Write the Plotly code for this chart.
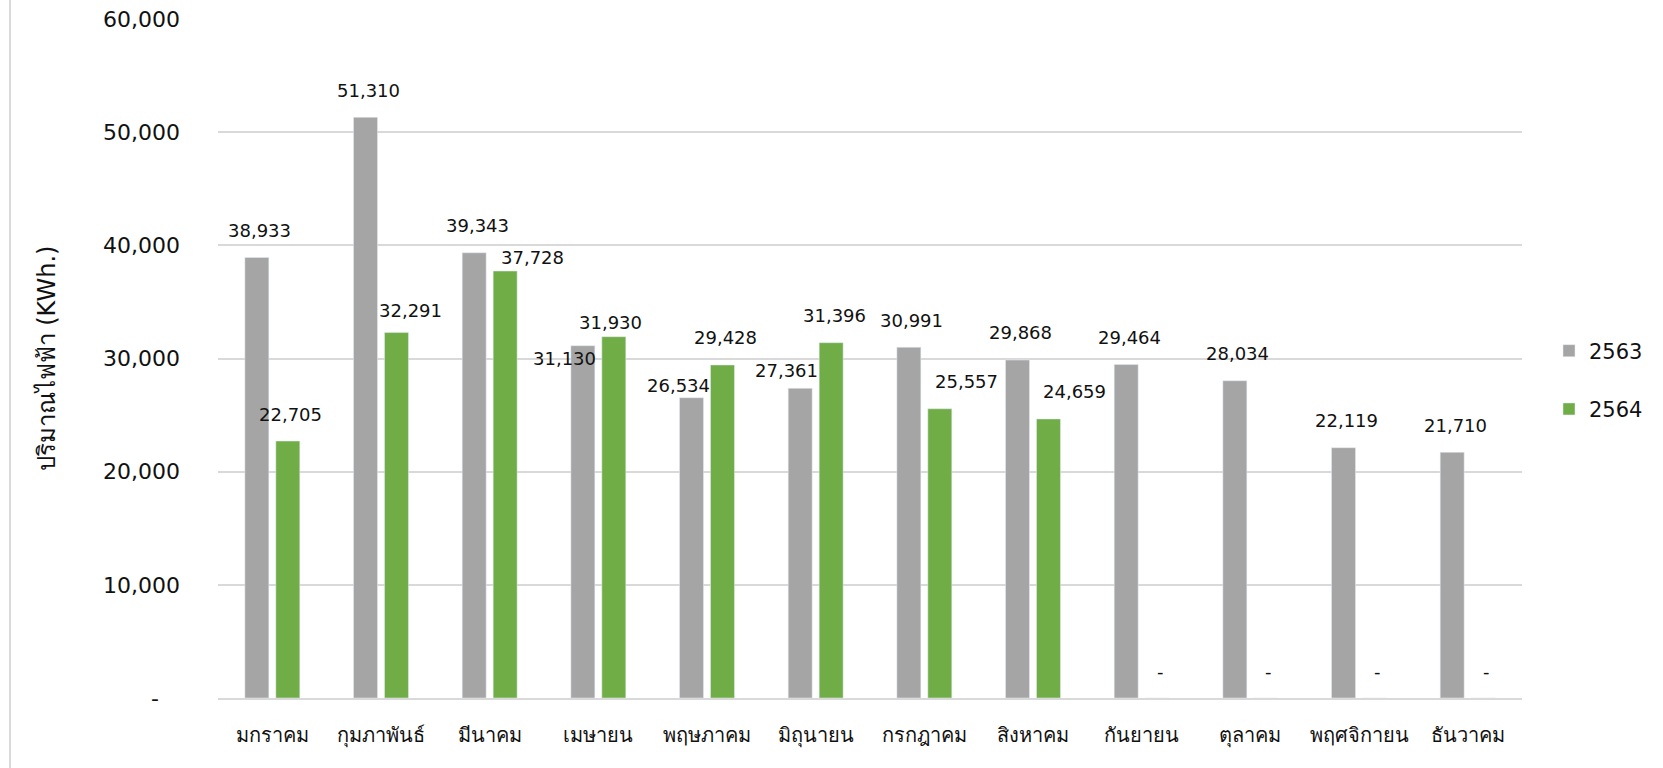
import plotly.graph_objects as go

months = ["มกราคม", "กุมภาพันธ์", "มีนาคม", "เมษายน", "พฤษภาคม", "มิถุนายน",
          "กรกฎาคม", "สิงหาคม", "กันยายน", "ตุลาคม", "พฤศจิกายน", "ธันวาคม"]
series_names = ["2563", "2564"]
values_2563 = [38933, 51310, 39343, 31130, 26534, 27361, 30991, 29868, 29464, 28034, 22119, 21710]
values_2564 = [22705, 32291, 37728, 31930, 29428, 31396, 25557, 24659, 0, 0, 0, 0]
y_tickvals = [0, 10000, 20000, 30000, 40000, 50000, 60000]
y_ticktext = ["-\u00a0\u00a0\u00a0", "10,000", "20,000", "30,000", "40,000", "50,000", "60,000"]
y_title = "ปริมาณไฟฟ้า (KWh.)"

GRAY = "#A5A5A5"
GREEN = "#70AD47"
GRID = "#D9D9D9"
FONT = "Tahoma, 'DejaVu Sans', sans-serif"

W, H = 1663, 768
ML, MR, MT, MB = 218, 141, 19, 70
PW = W - ML - MR
PH = H - MT - MB

fig = go.Figure()
fig.add_trace(go.Bar(x=months, y=values_2563, name=series_names[0], marker_color=GRAY,
                     legendgroup="a"))
fig.add_trace(go.Bar(x=months, y=values_2564, name=series_names[1], marker_color=GREEN,
                     legendgroup="b"))

# label nudges (dx px, px above bar top) for individual labels
nudge_2563 = {3: (-18, -13), 4: (-13, 12), 5: (-14, 18)}
nudge_2564 = {1: (14, 22), 2: (27, 14), 3: (-3, 14), 6: (27, 27), 7: (26, 27)}
DEFAULT = (3, 27)
SLOT = 15.5

def fmt(v):
    return "-" if v == 0 else f"{v:,}"

annotations = []
for i, m in enumerate(months):
    for vals, nudge, side in ((values_2563, nudge_2563, -1), (values_2564, nudge_2564, 1)):
        dx, up = nudge.get(i, DEFAULT)
        annotations.append(dict(
            x=m, y=vals[i], xref="x", yref="y", text=fmt(vals[i]), showarrow=False,
            xanchor="center", yanchor="middle", xshift=side * SLOT + dx, yshift=up,
            font=dict(family=FONT, size=18, color="#111111")))

fig.update_layout(
    width=W, height=H,
    margin=dict(l=ML, r=MR, t=MT, b=MB, autoexpand=False),
    paper_bgcolor="white", plot_bgcolor="white",
    barmode="group", bargap=0.43, bargroupgap=0.226,
    font=dict(family=FONT, color="#111111"),
    annotations=annotations,
    legend=dict(x=(1549 - ML) / PW, y=(H - MB - 380) / PH, xanchor="left", yanchor="middle",
                font=dict(family=FONT, size=21, color="#111111"),
                tracegroupgap=28, itemwidth=30, bgcolor="rgba(0,0,0,0)"),
    shapes=[dict(type="line", xref="paper", yref="paper",
                 x0=(10 - ML) / PW, x1=(10 - ML) / PW, y0=-MB / PH, y1=(PH + MT) / PH,
                 line=dict(color=GRID, width=2))],
)
fig.update_xaxes(showgrid=False, showline=True, linecolor=GRID, linewidth=2,
                 ticks="", tickfont=dict(family=FONT, size=20, color="#111111"),
                 ticklabelstandoff=18)
fig.update_yaxes(range=[0, 60000], tickvals=y_tickvals, ticktext=y_ticktext,
                 showgrid=True, gridcolor=GRID, gridwidth=2, zeroline=False,
                 showline=False, ticks="",
                 tickfont=dict(family=FONT, size=22, color="#111111"),
                 ticklabelstandoff=37,
                 title=dict(text=y_title, standoff=40,
                            font=dict(family=FONT, size=24, color="#111111")))

fig.write_html("out.html", config={"displayModeBar": False},
               post_script="document.body.style.margin='0';")
